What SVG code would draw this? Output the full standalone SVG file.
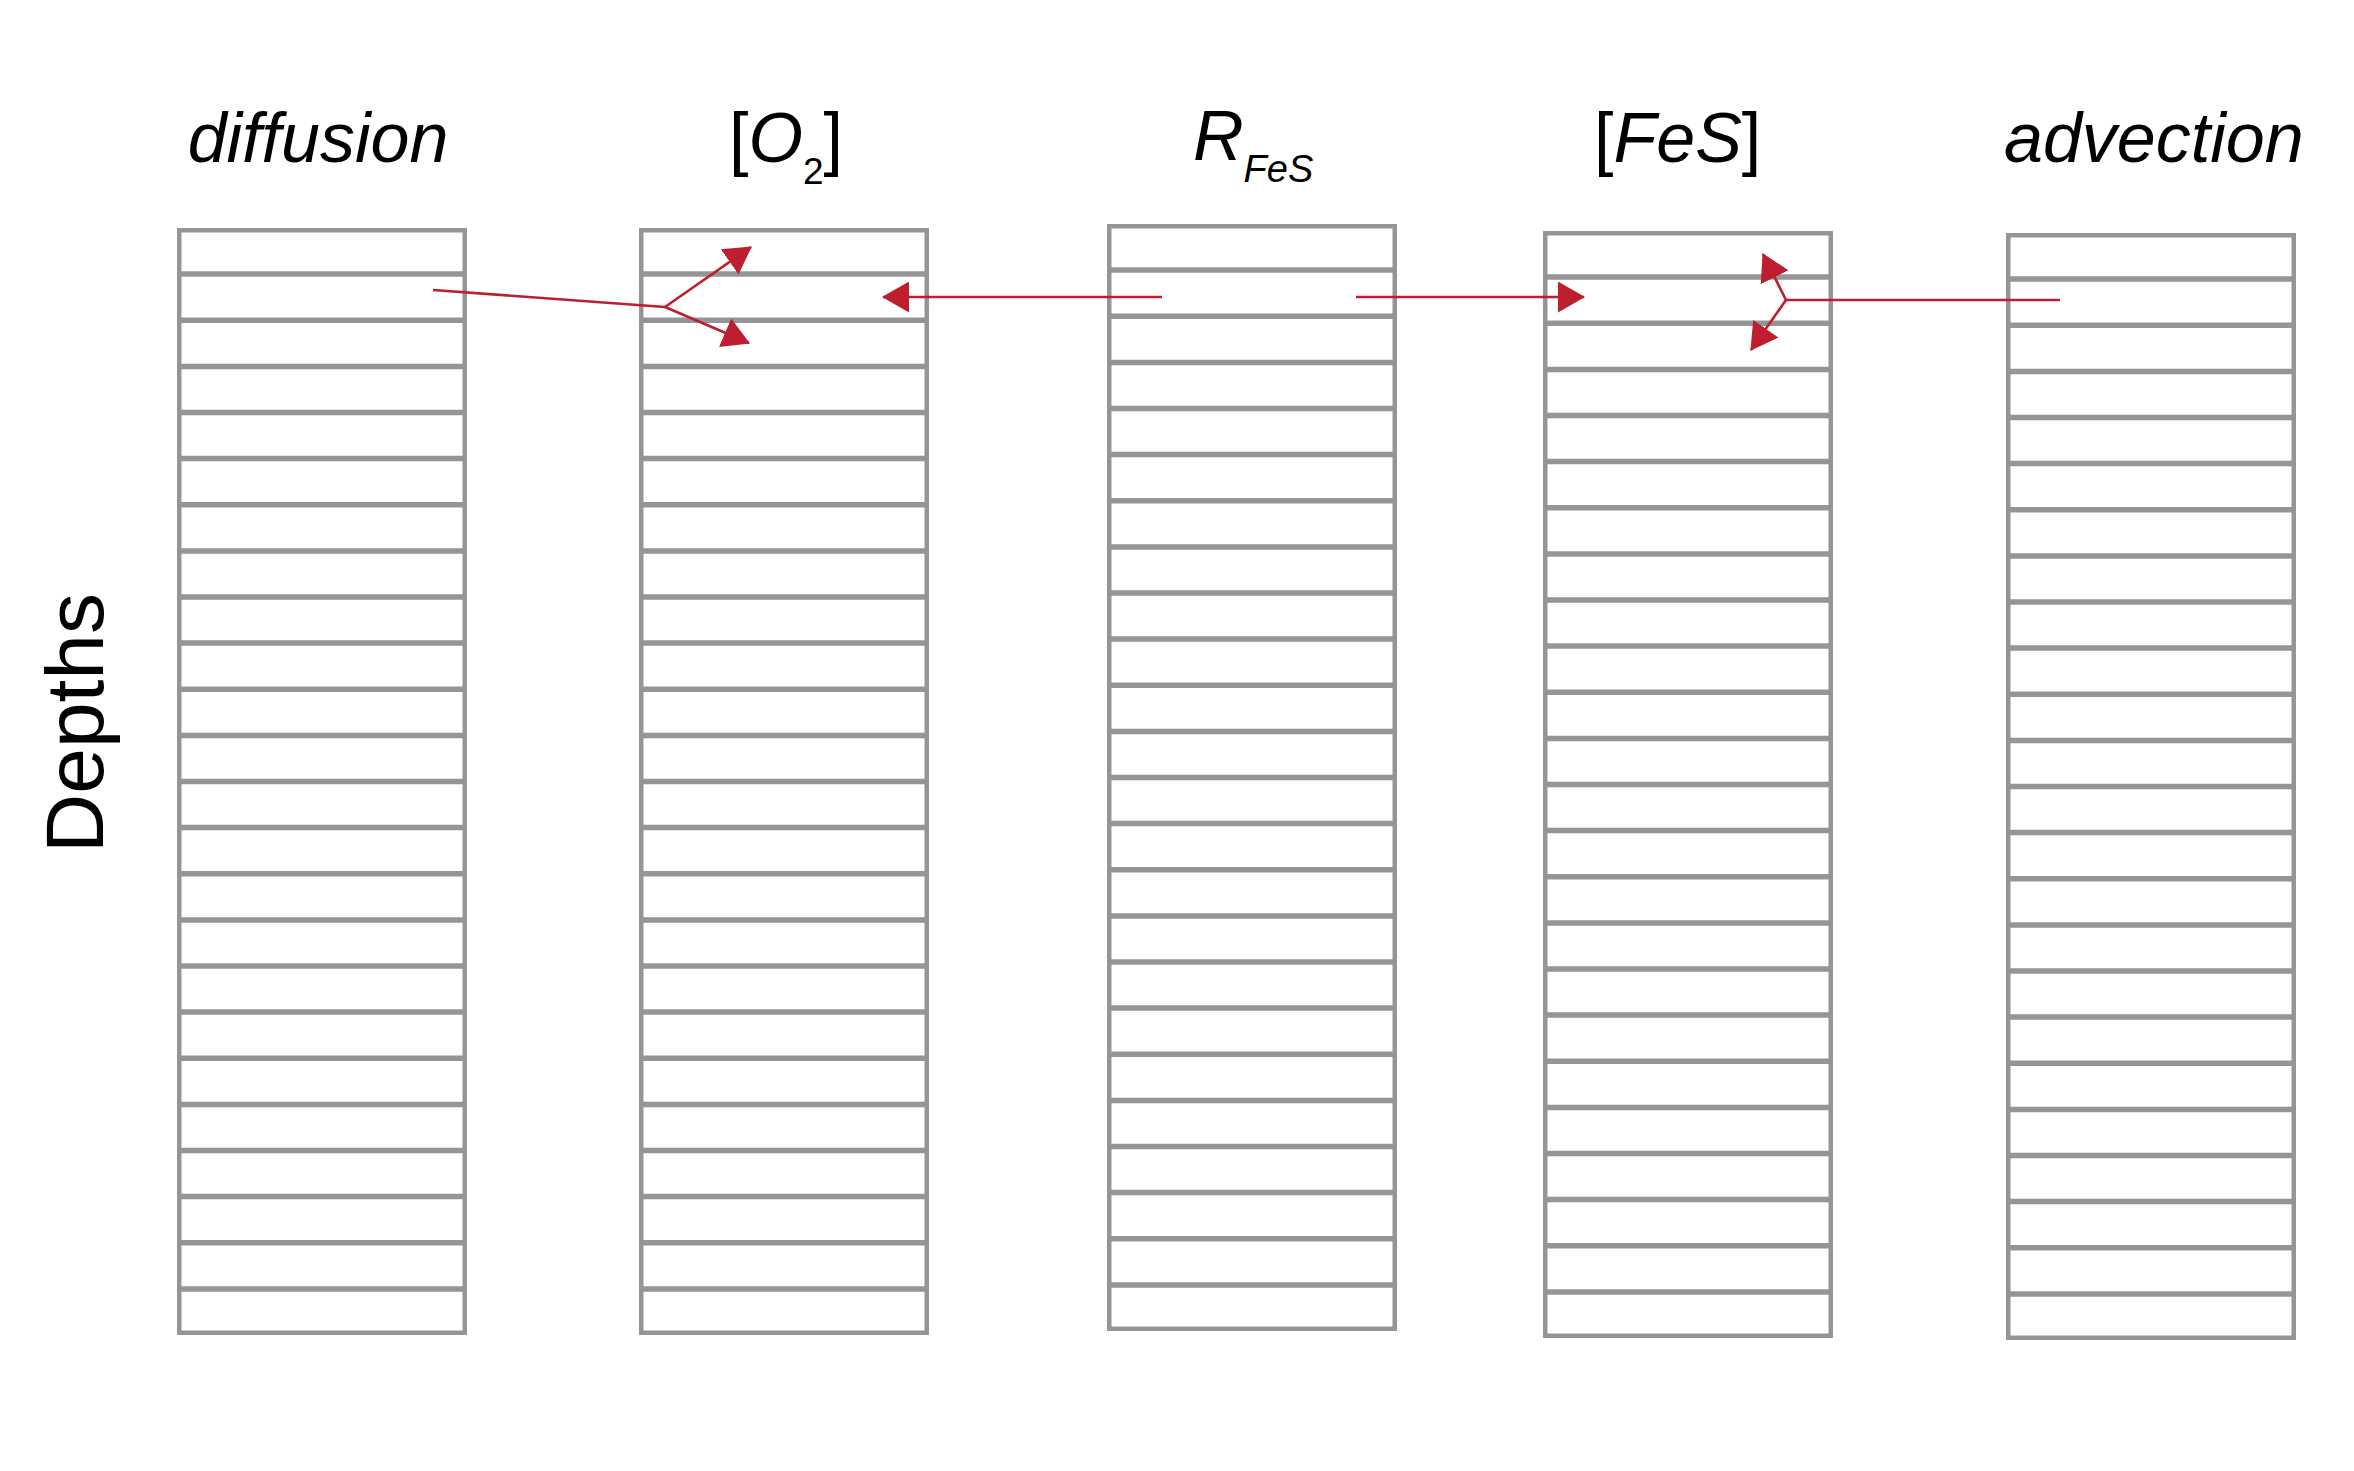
<svg xmlns="http://www.w3.org/2000/svg" xmlns:xlink="http://www.w3.org/1999/xlink" width="2354" height="1471" viewBox="0 0 2354 1471">
<style>
.box{fill:#ffffff;stroke:#939598;stroke-width:4.5}
.rows{fill:none;stroke:#939598;stroke-width:5.5}
.lbl{font-family:"Liberation Sans",Arial,Helvetica,sans-serif;font-size:70px;fill:#000000}
.it{font-style:italic}
.conn{fill:none;stroke:#BE1E2D;stroke-width:2.6}
</style>
<defs>
<marker id="ah" viewBox="0 0 27 31" markerWidth="27" markerHeight="31" refX="26" refY="15.5" orient="auto" markerUnits="userSpaceOnUse">
<path d="M0,0 L27,15.5 L0,31 Z" fill="#BE1E2D"/>
</marker>
<g id="stack">
<rect class="box" x="2.25" y="2.25" width="285.5" height="1102.5"/>
<path class="rows" d="M2,46.1H288M2,92.3H288M2,138.4H288M2,184.5H288M2,230.6H288M2,276.8H288M2,322.9H288M2,369H288M2,415.1H288M2,461.3H288M2,507.4H288M2,553.5H288M2,599.6H288M2,645.8H288M2,691.9H288M2,738H288M2,784.1H288M2,830.3H288M2,876.4H288M2,922.5H288M2,968.6H288M2,1014.8H288M2,1060.9H288"/>
</g>
</defs>
<rect x="0" y="0" width="2354" height="1471" fill="#ffffff"/>
<g id="axis-label">
<text class="lbl" style="font-size:82px" transform="translate(103,723) rotate(-90)" text-anchor="middle">Depths</text>
</g>
<g id="col-diffusion">
<use xlink:href="#stack" href="#stack" transform="translate(177,228)"/>
<text class="lbl it" x="318" y="162" text-anchor="middle">diffusion</text>
</g>
<g id="col-o2">
<use xlink:href="#stack" href="#stack" transform="translate(639,228)"/>
<text class="lbl" x="729" y="162">[<tspan class="it">O</tspan><tspan style="font-size:37px" dy="22">2</tspan><tspan dy="-22">]</tspan></text>
</g>
<g id="col-rfes">
<use xlink:href="#stack" href="#stack" transform="translate(1107,224)"/>
<text class="lbl it" x="1193" y="160">R<tspan style="font-size:38px" dy="22">FeS</tspan></text>
</g>
<g id="col-fes">
<use xlink:href="#stack" href="#stack" transform="translate(1543,231)"/>
<text class="lbl" x="1594" y="162">[<tspan class="it">FeS</tspan>]</text>
</g>
<g id="col-advection">
<use xlink:href="#stack" href="#stack" transform="translate(2006,233)"/>
<text class="lbl it" x="2004" y="162">advection</text>
</g>
<g id="connectors">
<path class="conn" d="M433,290 L665,307"/>
<path class="conn" d="M665,307 L751,247" marker-end="url(#ah)"/>
<path class="conn" d="M665,307 L749,343" marker-end="url(#ah)"/>
<path class="conn" d="M1162,297 L883,297" marker-end="url(#ah)"/>
<path class="conn" d="M1356,297 L1584,297" marker-end="url(#ah)"/>
<path class="conn" d="M2060,300 L1786,300"/>
<path class="conn" d="M1786,300 L1763,254" marker-end="url(#ah)"/>
<path class="conn" d="M1786,300 L1751,350" marker-end="url(#ah)"/>
</g>
</svg>
